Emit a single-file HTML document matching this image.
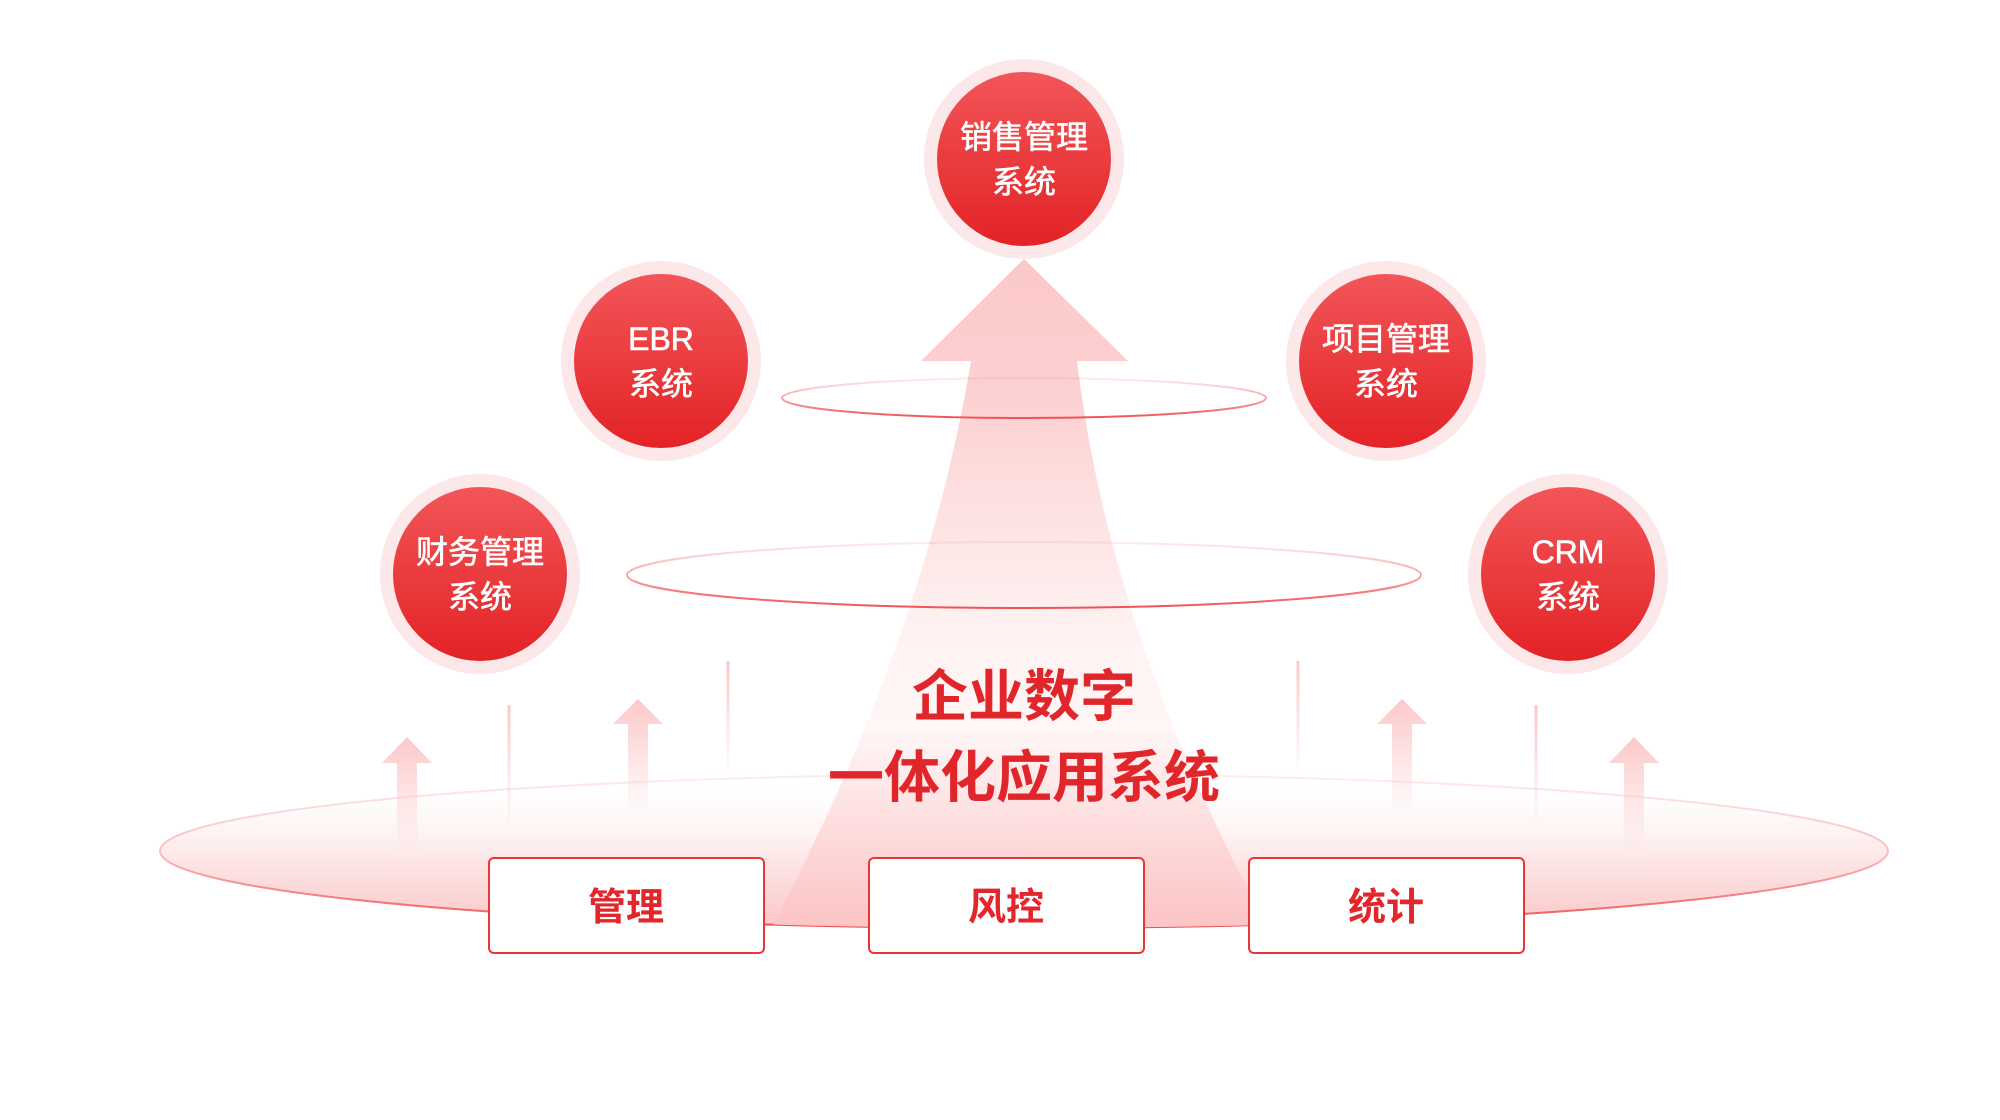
<!DOCTYPE html>
<html><head><meta charset="utf-8"><style>
html,body{margin:0;padding:0;background:#fff;}
svg{display:block;}
text{font-family:"Liberation Sans","Noto Sans CJK SC",sans-serif;}
</style></head><body>
<svg width="2000" height="1120" viewBox="0 0 2000 1120" xmlns="http://www.w3.org/2000/svg">
<defs>
<linearGradient id="cg" x1="0" y1="0" x2="0" y2="1"><stop offset="0" stop-color="#f25558"/><stop offset="1" stop-color="#e32326"/></linearGradient>
<linearGradient id="base" x1="0" y1="0" x2="0" y2="1"><stop offset="0" stop-color="#fff" stop-opacity="0"/><stop offset="0.45" stop-color="#fdeeee"/><stop offset="1" stop-color="#fcc6c7"/></linearGradient>
<linearGradient id="bstroke" x1="0" y1="0" x2="0" y2="1"><stop offset="0" stop-color="#f7a5a7" stop-opacity="0.2"/><stop offset="0.5" stop-color="#f79a9c" stop-opacity="0.6"/><stop offset="1" stop-color="#ef4a4e"/></linearGradient>
<linearGradient id="arr" x1="0" y1="259" x2="0" y2="930" gradientUnits="userSpaceOnUse"><stop offset="0" stop-color="#fcc8c9"/><stop offset="0.2" stop-color="#fcd0d1"/><stop offset="0.55" stop-color="#fff2f2"/><stop offset="0.7" stop-color="#fff6f6"/><stop offset="1" stop-color="#fcc3c4"/></linearGradient>
<linearGradient id="sa" x1="0" y1="0" x2="0" y2="1"><stop offset="0" stop-color="#fcc8c9"/><stop offset="1" stop-color="#fcc8c9" stop-opacity="0"/></linearGradient>
<linearGradient id="ring" x1="0" y1="0" x2="0" y2="1"><stop offset="0" stop-color="#f37a7d" stop-opacity="0.15"/><stop offset="1" stop-color="#ef5256"/></linearGradient>
<clipPath id="clipA"><rect x="0" y="0" width="2000" height="851"/><ellipse cx="1024" cy="851" rx="864" ry="77"/></clipPath>
</defs>

<ellipse cx="1024" cy="851" rx="864" ry="77" fill="url(#base)" stroke="url(#bstroke)" stroke-width="2"/>

<path clip-path="url(#clipA)" d="M1024,259 L1128,361 L1077,361 Q1110,640 1275,940 L765,940 Q925,640 971,361 L921,361 Z" fill="url(#arr)"/>

<ellipse cx="1024" cy="398" rx="242" ry="20" fill="none" stroke="url(#ring)" stroke-width="2"/>
<ellipse cx="1024" cy="575" rx="397" ry="33" fill="none" stroke="url(#ring)" stroke-width="2"/>

<g fill="url(#sa)">
<rect x="507.5" y="705" width="3" height="124"/>
<rect x="726.5" y="661" width="3" height="117"/>
<rect x="1296.5" y="661" width="3" height="117"/>
<rect x="1534.5" y="705" width="3" height="124"/>
</g>
<g fill="url(#sa)">
<path d="M407,737 L432,763 L417,763 L417,850 L397,850 L397,763 L382,763 Z"/>
<path d="M638,699 L663,724 L648,724 L648,815 L628,815 L628,724 L613,724 Z"/>
<path d="M1402,699 L1427,724 L1412,724 L1412,815 L1392,815 L1392,724 L1377,724 Z"/>
<path d="M1634,737 L1659,763 L1644,763 L1644,850 L1624,850 L1624,763 L1609,763 Z"/>
</g>

<g fill="#fff" stroke="#e8353a" stroke-width="2">
<rect x="489" y="858" width="275" height="95" rx="5"/>
<rect x="869" y="858" width="275" height="95" rx="5"/>
<rect x="1249" y="858" width="275" height="95" rx="5"/>
</g>
<g fill="#e3262b" font-size="38" font-weight="bold" text-anchor="middle">
<text x="626" y="920">管理</text>
<text x="1006" y="920">风控</text>
<text x="1386" y="920">统计</text>
</g>

<g fill="#e0262b" font-size="56" font-weight="bold" text-anchor="middle">
<text x="1024" y="716">企业数字</text>
<text x="1024" y="797">一体化应用系统</text>
</g>

<g>
<circle cx="1024" cy="159" r="100" fill="#fce8e8"/><circle cx="1024" cy="159" r="87" fill="url(#cg)"/>
<circle cx="661" cy="361" r="100" fill="#fce8e8"/><circle cx="661" cy="361" r="87" fill="url(#cg)"/>
<circle cx="1386" cy="361" r="100" fill="#fce8e8"/><circle cx="1386" cy="361" r="87" fill="url(#cg)"/>
<circle cx="480" cy="574" r="100" fill="#fce8e8"/><circle cx="480" cy="574" r="87" fill="url(#cg)"/>
<circle cx="1568" cy="574" r="100" fill="#fce8e8"/><circle cx="1568" cy="574" r="87" fill="url(#cg)"/>
</g>
<g fill="#fff" font-size="32" text-anchor="middle" stroke="#fff" stroke-width="0.6">
<text x="1024" y="148">销售管理</text><text x="1024" y="193">系统</text>
<text x="661" y="350">EBR</text><text x="661" y="395">系统</text>
<text x="1386" y="350">项目管理</text><text x="1386" y="395">系统</text>
<text x="480" y="563">财务管理</text><text x="480" y="608">系统</text>
<text x="1568" y="563">CRM</text><text x="1568" y="608">系统</text>
</g>
</svg>
</body></html>
